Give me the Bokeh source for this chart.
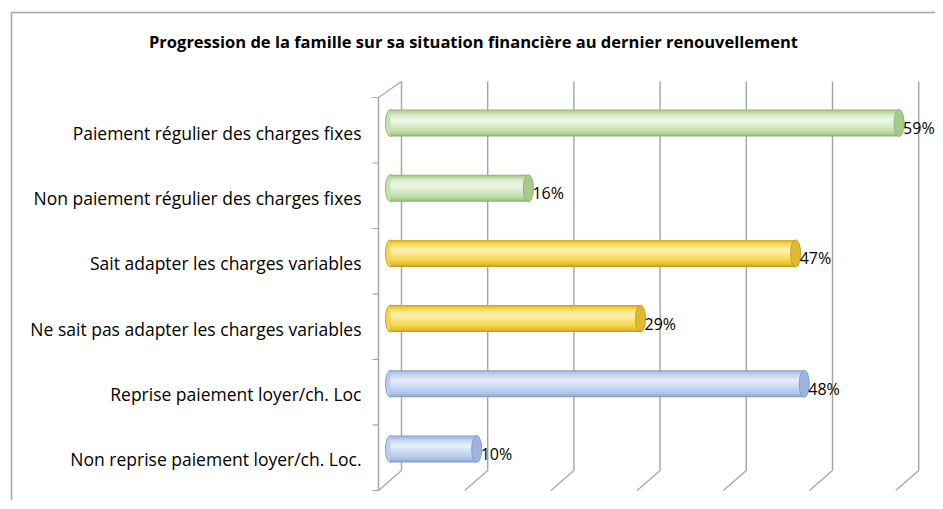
from bokeh.plotting import figure
from bokeh.models import Range1d
from bokeh.embed import file_html
from bokeh.resources import INLINE
from bokeh.core.properties import value

# ---------------- data ----------------
categories = [
    "Paiement régulier des charges fixes",
    "Non paiement régulier des charges fixes",
    "Sait adapter les charges variables",
    "Ne sait pas adapter les charges variables",
    "Reprise paiement loyer/ch. Loc",
    "Non reprise paiement loyer/ch. Loc.",
]
values = [59, 16, 47, 29, 48, 10]
value_labels = ["59%", "16%", "47%", "29%", "48%", "10%"]
x_ticks = [0, 10, 20, 30, 40, 50, 60]
title = "Progression de la famille sur sa situation financière au dernier renouvellement"

# ---------------- styling / geometry ----------------
palettes = {
    "green": ["#8db572", "#a6ca8c", "#bad9a3", "#c9e2b5", "#d6e9c7", "#e2f0d8", "#ebf5e3"],
    "yellow": ["#c49e22", "#dfb932", "#ecc840", "#f5d64e", "#f8df6a", "#fae88d", "#fcefad"],
    "blue": ["#869ec9", "#9db4de", "#afc5ea", "#bccfef", "#c9d9f3", "#d6e3f6", "#e3ecfa"],
}
bar_group = ["green", "green", "yellow", "yellow", "blue", "blue"]

W, H = 935, 500
X0, SX = 390.0, 8.62      # page x of 0 at mid depth, px per %
Y0, SY = 122.5, 65.2      # page y of first category centre, px per category

def dx(px):
    return (px - X0) / SX

def dy(py):
    return (py - Y0) / SY

p = figure(width=W, height=H, output_backend="svg", toolbar_location=None,
           x_range=Range1d(dx(0), dx(W)),
           y_range=Range1d(dy(H), dy(0)),
           x_axis_type=None, y_axis_type=None, min_border=0)
p.grid.visible = False
p.outline_line_color = None
p.background_fill_color = "white"
p.border_fill_color = "white"

# outer chart border
p.segment(x0=[dx(11), dx(11)], y0=[dy(12), dy(12)], x1=[dx(11), dx(2000)], y1=[dy(2000), dy(12)],
          line_color="#a6a6a6", line_width=1.5)

# title
p.text(x=[dx(473)], y=[dy(41)], text=[title], text_font=value("Open Sans"),
       text_font_style="bold", text_font_size="16.5px", text_align="center",
       text_baseline="middle", text_color="#000000")

GRID = "#a3a3a3"
back_off = 11 / SX
front_off = -12 / SX
back_top, back_bot, front_top, front_bot = dy(81), dy(470), dy(97), dy(490)

# back wall verticals and floor diagonals
for t in x_ticks:
    p.segment(x0=[t + back_off], y0=[back_top], x1=[t + back_off], y1=[back_bot],
              line_color=GRID, line_width=1.4)
    p.segment(x0=[t + back_off], y0=[back_bot], x1=[t + front_off], y1=[front_bot],
              line_color=GRID, line_width=1.2)

# left side wall: front vertical axis + top diagonal + ticks
p.segment(x0=[front_off], y0=[front_top], x1=[front_off], y1=[front_bot],
          line_color=GRID, line_width=1.4)
p.segment(x0=[front_off], y0=[front_top], x1=[back_off], y1=[back_top],
          line_color=GRID, line_width=1.2)
n = len(categories)
tick_y = [front_top + j * (front_bot - front_top) / n for j in range(n + 1)]
p.segment(x0=[dx(372)] * len(tick_y), y0=tick_y, x1=[front_off] * len(tick_y), y1=tick_y,
          line_color=GRID, line_width=1.2)

# cylinders
BAR_PX = 27
layers = [(27, 0), (25, -0.3), (22, -0.8), (18, -1.3), (14, -2), (9, -2.5), (4, -3)]
for i, (v, g) in enumerate(zip(values, bar_group)):
    pal = palettes[g]
    # left rounded end
    p.ellipse(x=[0], y=[i], width=10, height=BAR_PX, width_units="screen", height_units="screen",
              fill_color=pal[3], line_color=pal[0], line_width=1)
    for k, (h, off) in enumerate(layers):
        p.hbar(y=[i + off / SY], left=[0], right=[v], height=h / SY,
               fill_color=pal[k], line_color=None)
    # right end cap
    p.ellipse(x=[v], y=[i], width=10, height=BAR_PX, width_units="screen", height_units="screen",
              fill_color=pal[1], line_color=pal[0], line_width=1)

# value labels
p.text(x=values, y=list(range(n)), text=value_labels, x_offset=4, y_offset=5,
       text_font=value("Open Sans"), text_font_size="16px", text_align="left",
       text_baseline="middle", text_color="#000000")

# category labels
p.text(x=[dx(361)] * n, y=list(range(n)), text=categories, y_offset=10,
       text_font=value("Open Sans"), text_font_size="17.5px", text_align="right",
       text_baseline="middle", text_color="#000000")

open("out.html", "w").write(file_html(p, INLINE))
